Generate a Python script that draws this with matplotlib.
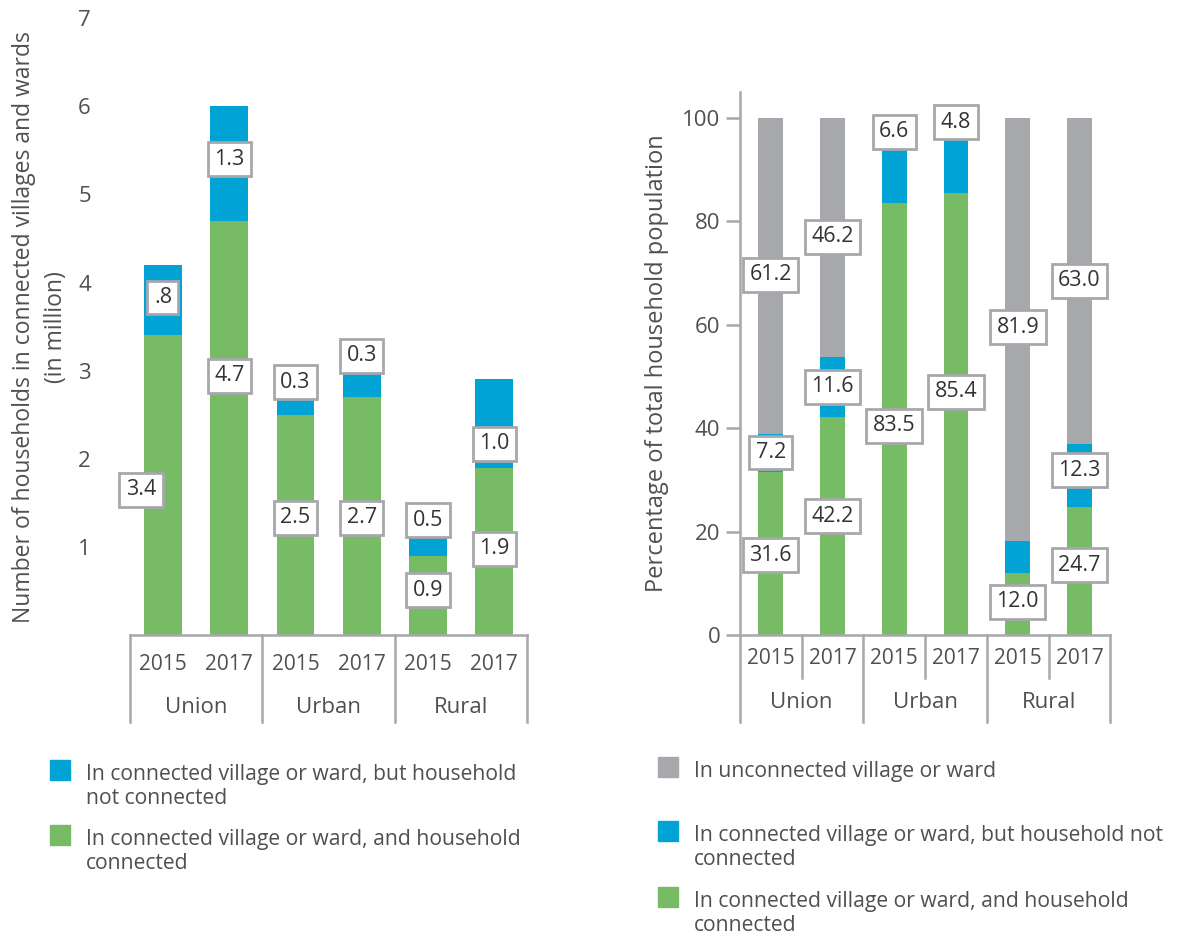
import numpy as np
import matplotlib.pyplot as plt
from matplotlib.patches import Rectangle
import matplotlib.transforms as mtransforms

plt.rcParams['font.family'] = ['Open Sans', 'DejaVu Sans']

BLUE = '#00a3d4'
GREEN = '#77bb65'
GREY = '#a7a8ac'
TXT = '#505050'

years = ['2015', '2017', '2015', '2017', '2015', '2017']
groups = ['Union', 'Urban', 'Rural']

# left chart: households, million
hh_connected = [3.4, 4.7, 2.5, 2.7, 0.9, 1.9]
hh_not_connected = [0.8, 1.3, 0.3, 0.3, 0.5, 1.0]
hh_green_labels = ['3.4', '4.7', '2.5', '2.7', '0.9', '1.9']
hh_blue_labels = ['.8', '1.3', '0.3', '0.3', '0.5', '1.0']

# right chart: percentage of population
pct_connected = [31.6, 42.2, 83.5, 85.4, 12.0, 24.7]
pct_not_connected = [7.2, 11.6, 16.5, 14.6, 6.1, 12.3]
pct_unconnected = [61.2, 46.2, 0.0, 0.0, 81.9, 63.0]
pct_green_labels = ['31.6', '42.2', '83.5', '85.4', '12.0', '24.7']
pct_blue_labels = ['7.2', '11.6', '6.6', '4.8', '', '12.3']
pct_grey_labels = ['61.2', '46.2', '', '', '81.9', '63.0']

# label placement (y in data units)
hh_green_pos = [1.65, 2.94, 1.33, 1.33, 0.51, 0.98]
hh_blue_pos = [3.83, 5.4, 2.87, 3.17, 1.3, 2.17]
hh_green_dx = [-0.33, 0, 0, 0, 0, 0]
pct_green_pos = [15.4, 23.0, 40.5, 47.0, 6.4, 13.5]
pct_blue_pos = [35.3, 48.0, 97.3, 99.2, 0, 31.9]
pct_grey_pos = [69.7, 77.0, 0, 0, 59.5, 68.5]

fig = plt.figure(figsize=(11.8, 9.36), dpi=100)
x = np.arange(6)

box = dict(boxstyle='square,pad=0.3', fc='white', ec=GREY, lw=2)


def add_label(ax, xx, yy, s):
    if s:
        ax.text(xx, yy, s, ha='center', va='center', fontsize=15.5,
                color='#333333', bbox=box, zorder=5)


def group_axis(ax, ybot_long, ybot_short, year_y, group_y, short):
    tr = mtransforms.blended_transform_factory(ax.transData, ax.transAxes)
    for xx in [-0.5, 1.5, 3.5, 5.5]:
        ax.plot([xx, xx], [0, ybot_long], color=GREY, lw=1.8, transform=tr,
                clip_on=False)
    if short:
        for xx in [0.5, 2.5, 4.5]:
            ax.plot([xx, xx], [0, ybot_short], color=GREY, lw=1.8,
                    transform=tr, clip_on=False)
    for i, yr in enumerate(years):
        ax.text(i, year_y, yr, ha='center', va='center', fontsize=15,
                color=TXT, transform=tr)
    for i, g in enumerate(groups):
        ax.text(2 * i + 0.5, group_y, g, ha='center', va='center',
                fontsize=16, color=TXT, transform=tr)


# ---- left chart
ax1 = fig.add_axes([0.110, 0.3216, 0.337, 0.659])
ax1.bar(x, hh_connected, width=0.57, color=GREEN)
ax1.bar(x, hh_not_connected, width=0.57, bottom=hh_connected, color=BLUE)
for i in range(6):
    add_label(ax1, i + hh_green_dx[i], hh_green_pos[i], hh_green_labels[i])
    add_label(ax1, i, hh_blue_pos[i], hh_blue_labels[i])
ax1.set_xlim(-0.5, 5.5)
ax1.set_ylim(0, 7)
ax1.set_yticks([1, 2, 3, 4, 5, 6, 7])
ax1.set_xticks([])
ax1.tick_params(axis='y', length=0, labelsize=16, labelcolor=TXT, pad=28)
for s in ['left', 'right', 'top']:
    ax1.spines[s].set_visible(False)
ax1.spines['bottom'].set_color(GREY)
ax1.spines['bottom'].set_linewidth(1.8)
ax1.set_ylabel('Number of households in connected villages and wards\n(in million)',
               fontsize=16.5, color=TXT, linespacing=1.45)
ax1.yaxis.set_label_coords(-0.155, 0.5)
group_axis(ax1, -0.141, 0, -0.048, -0.118, False)

# ---- right chart
ax2 = fig.add_axes([0.627, 0.3216, 0.314, 0.580])
bot2 = np.array(pct_connected) + np.array(pct_not_connected)
ax2.bar(x, pct_connected, width=0.4, color=GREEN)
ax2.bar(x, pct_not_connected, width=0.4, bottom=pct_connected, color=BLUE)
ax2.bar(x, pct_unconnected, width=0.4, bottom=bot2, color=GREY)
for i in range(6):
    add_label(ax2, i, pct_green_pos[i], pct_green_labels[i])
    add_label(ax2, i, pct_blue_pos[i], pct_blue_labels[i])
    add_label(ax2, i, pct_grey_pos[i], pct_grey_labels[i])
ax2.set_xlim(-0.5, 5.5)
ax2.set_ylim(0, 105)
ax2.set_yticks([0, 20, 40, 60, 80, 100])
ax2.set_xticks([])
ax2.tick_params(axis='y', length=10, width=1.8, color=GREY, labelsize=16,
                labelcolor=TXT, pad=4)
for s in ['right', 'top']:
    ax2.spines[s].set_visible(False)
for s in ['left', 'bottom']:
    ax2.spines[s].set_color(GREY)
    ax2.spines[s].set_linewidth(1.8)
ax2.set_ylabel('Percentage of total household population', fontsize=17,
               color=TXT)
ax2.yaxis.set_label_coords(-0.19, 0.5)
group_axis(ax2, -0.160, -0.079, -0.044, -0.125, True)

# ---- legends
def legend_item(xp, yp, color, text):
    fig.patches.append(Rectangle((xp / 1180, 1 - (yp + 10) / 936), 20 / 1180,
                                 20 / 936, transform=fig.transFigure,
                                 color=color))
    fig.text((xp + 36) / 1180, 1 - (yp - 6) / 936, text, ha='left', va='top',
             fontsize=15.2, color=TXT, linespacing=1.17)


legend_item(50, 770, BLUE, 'In connected village or ward, but household\nnot connected')
legend_item(50, 835, GREEN, 'In connected village or ward, and household\nconnected')
legend_item(658, 767, GREY, 'In unconnected village or ward')
legend_item(658, 831, BLUE, 'In connected village or ward, but household not\nconnected')
legend_item(658, 897, GREEN, 'In connected village or ward, and household\nconnected')

fig.savefig('out.png', dpi=100)
